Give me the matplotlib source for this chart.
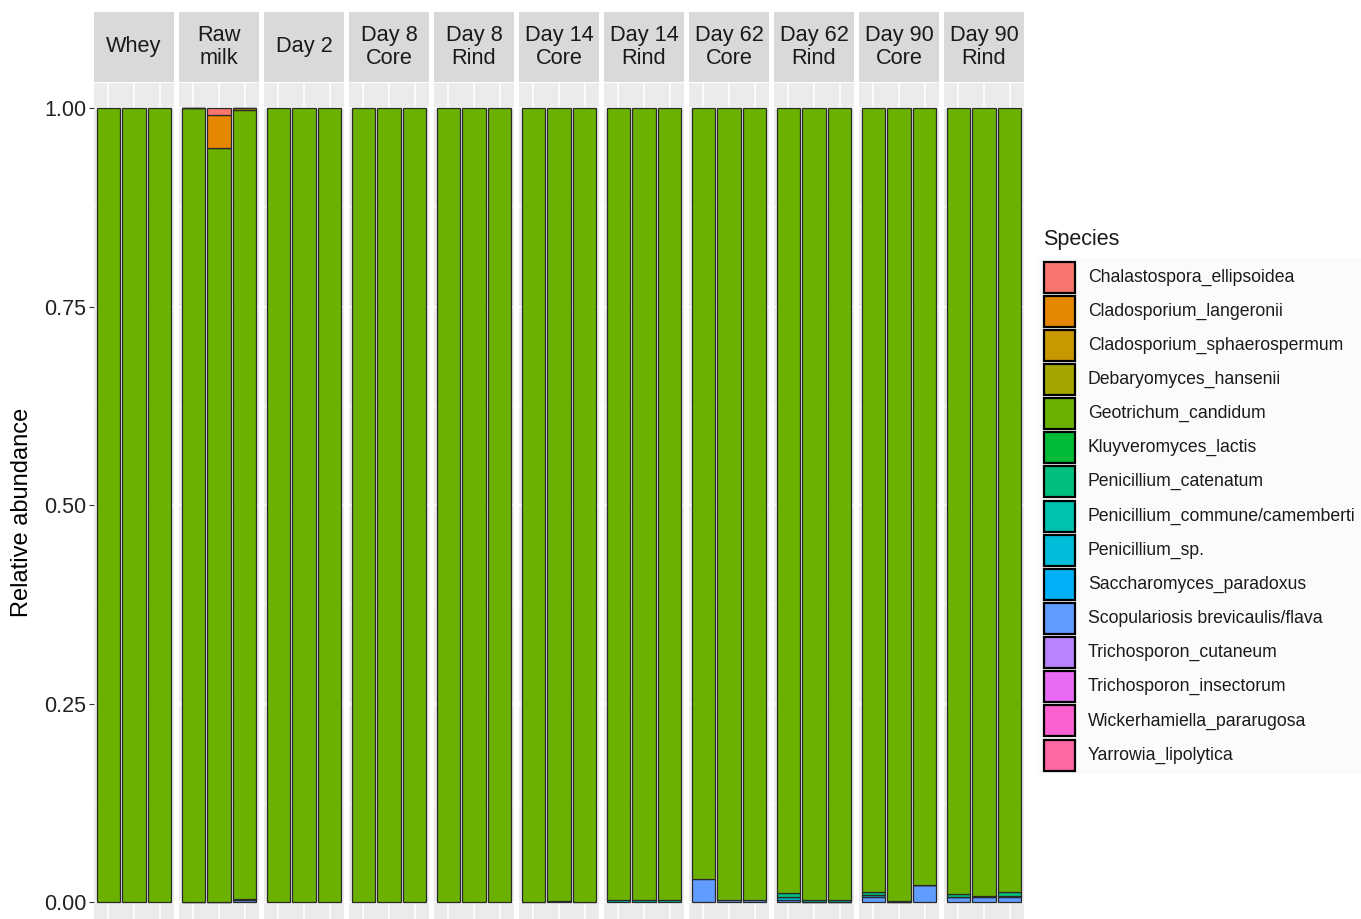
import matplotlib
matplotlib.use("Agg")
import matplotlib.pyplot as plt
from matplotlib.patches import Rectangle
import numpy as np

plt.rcParams['font.family'] = ['Liberation Sans', 'DejaVu Sans']

panels = ["Whey", "Raw\nmilk", "Day 2", "Day 8\nCore", "Day 8\nRind", "Day 14\nCore",
          "Day 14\nRind", "Day 62\nCore", "Day 62\nRind", "Day 90\nCore", "Day 90\nRind"]

species = ["Chalastospora_ellipsoidea", "Cladosporium_langeronii", "Cladosporium_sphaerospermum",
           "Debaryomyces_hansenii", "Geotrichum_candidum", "Kluyveromyces_lactis",
           "Penicillium_catenatum", "Penicillium_commune/camemberti", "Penicillium_sp.",
           "Saccharomyces_paradoxus", "Scopulariosis brevicaulis/flava", "Trichosporon_cutaneum",
           "Trichosporon_insectorum", "Wickerhamiella_pararugosa", "Yarrowia_lipolytica"]

colors = ["#F8766D", "#E58700", "#C99800", "#A3A500", "#6BB100", "#00BA38", "#00BF7D",
          "#00C0AF", "#00BCD8", "#00B0F6", "#619CFF", "#B983FF", "#E76BF3", "#FD61D1", "#FF67A4"]

# 33 samples: 11 panels x 3 replicates
chalastospora = [0, 0, 0,  0, 0.009, 0,  0, 0, 0,  0, 0, 0,  0, 0, 0,  0, 0, 0,
                 0, 0, 0,  0, 0, 0,  0, 0, 0,  0, 0, 0,  0, 0, 0]
clado_langeronii = [0, 0, 0,  0, 0.041, 0,  0, 0, 0,  0, 0, 0,  0, 0, 0,  0, 0, 0,
                    0, 0, 0,  0, 0, 0,  0, 0, 0,  0, 0, 0,  0, 0, 0]
clado_sphaero = [0, 0, 0,  0, 0, 0.003,  0, 0, 0,  0, 0, 0,  0, 0, 0,  0, 0, 0,
                 0, 0, 0,  0, 0, 0,  0, 0, 0,  0, 0, 0,  0, 0, 0]
geotrichum = [1, 1, 1,  1, 0.950, 0.993,  1, 1, 1,  1, 1, 1,  1, 1, 1,  1, 0.999, 1,
              0.998, 0.998, 0.998,  0.971, 0.997, 0.997,  0.989, 0.998, 0.997,
              0.987, 0.999, 0.979,  0.990, 0.992, 0.988]
pen_catenatum = [0, 0, 0,  0, 0, 0,  0, 0, 0,  0, 0, 0,  0, 0, 0,  0, 0, 0,
                 0, 0, 0,  0, 0, 0,  0.005, 0, 0,  0.004, 0, 0,  0.004, 0, 0.004]
pen_commune = [0, 0, 0,  0, 0, 0,  0, 0, 0,  0, 0, 0,  0, 0, 0,  0, 0.001, 0,
               0.002, 0.002, 0.002,  0, 0, 0,  0, 0.002, 0.003,  0, 0.001, 0,  0, 0.002, 0]
pen_sp = [0, 0, 0,  0, 0, 0,  0, 0, 0,  0, 0, 0,  0, 0, 0,  0, 0, 0,
          0, 0, 0,  0, 0, 0,  0.003, 0, 0,  0.003, 0, 0,  0, 0, 0.002]
saccharomyces = [0, 0, 0,  0, 0, 0.002,  0, 0, 0,  0, 0, 0,  0, 0, 0,  0, 0, 0,
                 0, 0, 0,  0, 0, 0,  0, 0, 0,  0, 0, 0,  0, 0, 0]
scopulariosis = [0, 0, 0,  0, 0, 0.002,  0, 0, 0,  0, 0, 0,  0, 0, 0,  0, 0, 0,
                 0, 0, 0,  0.029, 0.003, 0.003,  0.003, 0, 0,  0.006, 0, 0.021,
                 0.006, 0.006, 0.006]
zeros = [0] * 33

values = {
    "Chalastospora_ellipsoidea": chalastospora,
    "Cladosporium_langeronii": clado_langeronii,
    "Cladosporium_sphaerospermum": clado_sphaero,
    "Debaryomyces_hansenii": zeros,
    "Geotrichum_candidum": geotrichum,
    "Kluyveromyces_lactis": zeros,
    "Penicillium_catenatum": pen_catenatum,
    "Penicillium_commune/camemberti": pen_commune,
    "Penicillium_sp.": pen_sp,
    "Saccharomyces_paradoxus": saccharomyces,
    "Scopulariosis brevicaulis/flava": scopulariosis,
    "Trichosporon_cutaneum": zeros,
    "Trichosporon_insectorum": zeros,
    "Wickerhamiella_pararugosa": zeros,
    "Yarrowia_lipolytica": zeros,
}

W, H = 1361, 919
fig = plt.figure(figsize=(W / 100, H / 100), dpi=100)

panel_bg = "#EBEBEB"
strip_bg = "#D9D9D9"
txt = "#1A1A1A"
ylo, yhi = -0.0214, 1.0315

def fx(px):
    return px / W

def fy(py):
    return 1 - py / H

p_left0, p_step, p_w = 94, 85, 80
p_top, p_bot = 83, 919
s_top, s_bot = 12, 82

for i, name in enumerate(panels):
    left = p_left0 + p_step * i
    ax = fig.add_axes([fx(left), fy(p_bot), fx(p_w), (p_bot - p_top) / H])
    ax.set_facecolor(panel_bg)
    ax.set_xlim(0.45, 3.55)
    ax.set_ylim(ylo, yhi)
    for sp in ax.spines.values():
        sp.set_visible(False)
    # grid
    for gy in np.arange(0, 1.01, 0.25):
        ax.axhline(gy, color="white", lw=1.1, zorder=0)
    for gy in np.arange(0.125, 1.0, 0.25):
        ax.axhline(gy, color="white", lw=0.55, zorder=0)
    for gx in [1, 2, 3]:
        ax.axvline(gx, color="white", lw=1.1, zorder=0)
    # stacked bars: first species on top
    x = np.array([1, 2, 3])
    bottom = np.zeros(3)
    for sname, col in list(zip(species, colors))[::-1]:
        v = np.array(values[sname][3 * i:3 * i + 3], dtype=float)
        if v.sum() == 0:
            continue
        ax.bar(x, v, bottom=bottom, width=0.9, color=col, edgecolor="#2a2a2a",
               linewidth=0.9, zorder=2)
        bottom += v
    ax.set_xticks([])
    if i == 0:
        ax.set_yticks([0, 0.25, 0.5, 0.75, 1.0])
        ax.set_yticklabels(["0.00", "0.25", "0.50", "0.75", "1.00"])
        ax.tick_params(axis="y", length=3.5, width=0.8, color="#333333", labelsize=15.5,
                       labelcolor="#222222", pad=2)
    else:
        ax.set_yticks([])
    # strip
    sax = fig.add_axes([fx(left), fy(s_bot), fx(p_w), (s_bot - s_top) / H])
    sax.set_facecolor(strip_bg)
    sax.set_xticks([]); sax.set_yticks([])
    for sp in sax.spines.values():
        sp.set_visible(False)
    sax.text(0.5, 0.5, name, ha="center", va="center", fontsize=15.7, color=txt,
             linespacing=1.1, transform=sax.transAxes)

fig.text(fx(22), fy(512), "Relative abundance", rotation=90, ha="center", va="center",
         fontsize=17, color="black")

# legend
lax = fig.add_axes([0, 0, 1, 1], facecolor="none")
lax.set_xlim(0, W)
lax.set_ylim(H, 0)
lax.axis("off")
lax.add_patch(Rectangle((1036, 258), W - 1036, 516, facecolor="#FBFBFB", edgecolor="none"))
lax.text(1043, 240, "Species", ha="left", va="center", fontsize=15.5, color=txt)
y0, dy, ks = 277, 34.15, 31
for k, (sname, col) in enumerate(zip(species, colors)):
    yc = y0 + dy * k
    lax.add_patch(Rectangle((1044, yc - ks / 2), ks, ks, facecolor=col, edgecolor="black",
                            linewidth=1.6))
    lax.text(1088, yc, sname, ha="left", va="center", fontsize=12.7, color=txt)

fig.savefig("out.png", dpi=100)
